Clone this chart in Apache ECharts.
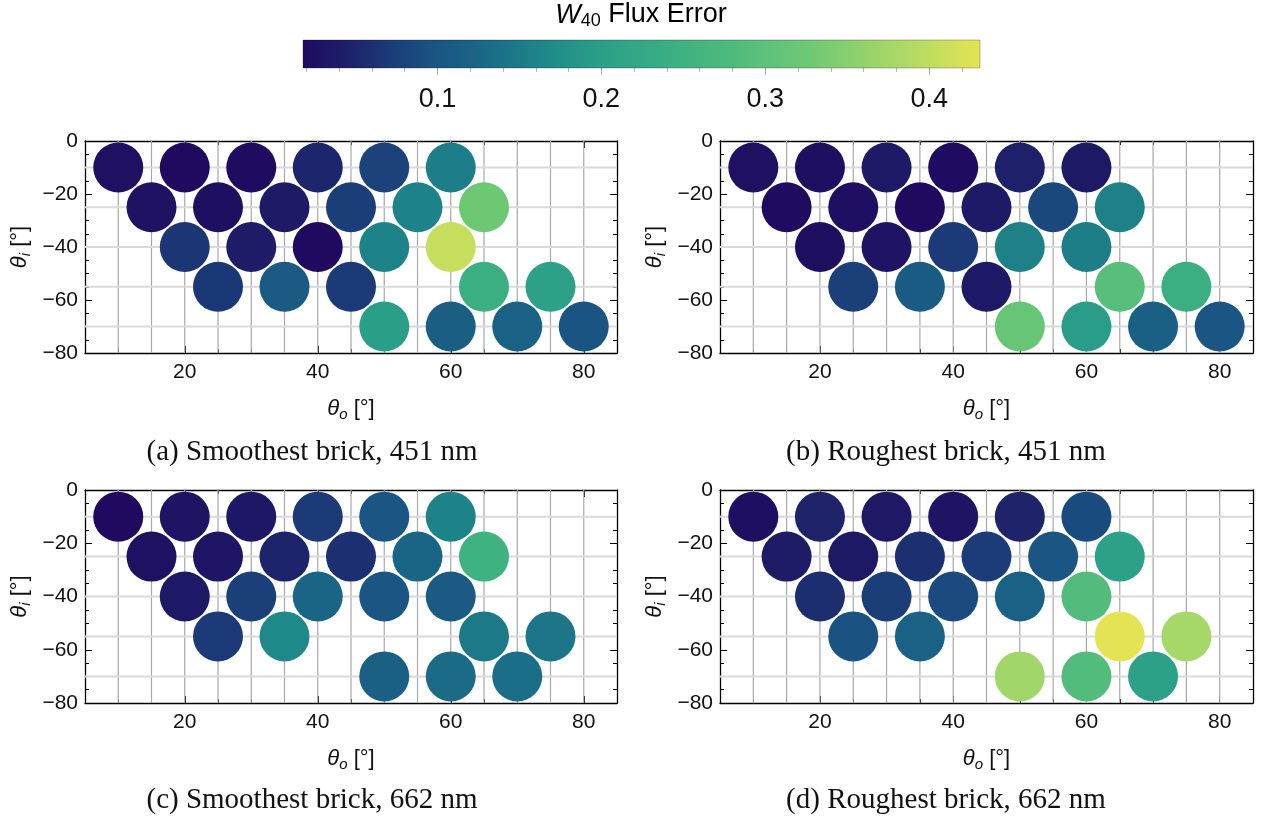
<!DOCTYPE html>
<html><head><meta charset="utf-8">
<script src="https://cdn.jsdelivr.net/npm/echarts@6/dist/echarts.min.js"></script>
<style>html,body{margin:0;padding:0;background:#fff}#c{width:1265px;height:822px}</style>
</head><body><div id="c"></div>
<script>
// ---- data ----
const thetaO_ab = [10,20,30,40,50,60, 15,25,35,45,55,65, 20,30,40,50,60, 25,35,45,65,75, 50,60,70,80];
const thetaI_ab = [-10,-10,-10,-10,-10,-10, -25,-25,-25,-25,-25,-25, -40,-40,-40,-40,-40, -55,-55,-55,-55,-55, -70,-70,-70,-70];
const thetaO_cd = [10,20,30,40,50,60, 15,25,35,45,55,65, 20,30,40,50,60, 25,35,65,75, 50,60,70];
const thetaI_cd = [-10,-10,-10,-10,-10,-10, -25,-25,-25,-25,-25,-25, -40,-40,-40,-40,-40, -55,-55,-55,-55, -70,-70,-70];
const err_a = [0.025,0.018,0.020,0.050,0.078,0.153, 0.028,0.024,0.038,0.073,0.160,0.324, 0.065,0.040,0.018,0.160,0.405, 0.068,0.107,0.070,0.243,0.205, 0.198,0.113,0.120,0.098];
const err_b = [0.025,0.024,0.038,0.020,0.045,0.036, 0.020,0.023,0.018,0.038,0.085,0.158, 0.024,0.030,0.070,0.158,0.155, 0.075,0.109,0.037,0.293,0.243, 0.315,0.196,0.117,0.100];
const err_c = [0.018,0.030,0.034,0.070,0.100,0.160, 0.026,0.032,0.049,0.060,0.123,0.250, 0.037,0.075,0.123,0.100,0.107, 0.070,0.167,0.148,0.143, 0.117,0.130,0.135];
const err_d = [0.024,0.048,0.035,0.030,0.048,0.088, 0.040,0.036,0.060,0.072,0.100,0.205, 0.058,0.073,0.087,0.120,0.286, 0.097,0.120,0.431,0.377, 0.372,0.285,0.205];
const captions = ['(a) Smoothest brick, 451 nm','(b) Roughest brick, 451 nm','(c) Smoothest brick, 662 nm','(d) Roughest brick, 662 nm'];
const xMajorTicks = [20,40,60,80];
const xMinorTicks = [5,10,15,25,30,35,45,50,55,65,70,75,85];
const gridLinesX = [10,15,20,25,30,35,40,45,50,55,60,65,70,75,80];
const gridLinesY = [-10,-25,-40,-55,-70];
const cbMajorTicks = [0.1,0.2,0.3,0.4];
const cbMinorTicks = [0.02,0.04,0.06,0.08,0.12,0.14,0.16,0.18,0.22,0.24,0.26,0.28,0.32,0.34,0.36,0.38,0.42];
const cbMin = 0.018, cbMax = 0.431;
const cmap = ['#1f0a5f','#1e1f68','#1b3a77','#1a5282','#1a6385','#1c7888','#208d89','#2a9f88','#34a886','#3fb281','#4cb97d','#5ec27a','#70c973','#8bd06e','#a8d868','#c6de5e','#e3e354'];

const xMin = 5, xMax = 85, yMin = -80, yMax = 0;
const panels = [
  {left:85, top:141, width:532, height:212, o:thetaO_ab, i:thetaI_ab, e:err_a},
  {left:720, top:141, width:533, height:212, o:thetaO_ab, i:thetaI_ab, e:err_b},
  {left:85, top:490, width:532, height:213, o:thetaO_cd, i:thetaI_cd, e:err_c},
  {left:720, top:490, width:533, height:213, o:thetaO_cd, i:thetaI_cd, e:err_d}
];
const captionPos = [[312,452],[946,452],[312,800],[946,800]];

const SANS = 'Liberation Sans, Arial, sans-serif';
const SERIF = 'Liberation Serif, Times New Roman, serif';
const subRich = (fs) => ({
  it: {fontStyle:'italic', fontSize:fs, fontFamily:SANS, color:'#111', lineHeight:fs+4, verticalAlign:'middle'},
  sub: {fontStyle:'italic', fontSize:Math.round(fs*0.68), fontFamily:SANS, color:'#111', lineHeight:fs+4, verticalAlign:'bottom'},
  subn: {fontSize:Math.round(fs*0.68), fontFamily:SANS, color:'#111', lineHeight:fs+4, verticalAlign:'bottom'},
  n: {fontSize:fs, fontFamily:SANS, color:'#111', lineHeight:fs+4, verticalAlign:'middle'}
});
const minus = v => String(v).replace('-', '\u2212');

const grids = [], xAxes = [], yAxes = [], series = [], graphics = [];
const scatterIdx = [];
const lineStyleFrame = {color:'#000', width:1.3};

function vLine(params, api){
  const x = api.value(0);
  const p0 = api.coord([x, yMin]), p1 = api.coord([x, yMax]);
  return {type:'line', shape:{x1:p0[0], y1:p0[1], x2:p1[0], y2:p1[1]}, style:{stroke:'#a8a8a8', lineWidth:1.2}};
}
function hLine(params, api){
  const y = api.value(1);
  const p0 = api.coord([xMin, y]), p1 = api.coord([xMax, y]);
  return {type:'line', shape:{x1:p0[0], y1:p0[1], x2:p1[0], y2:p1[1]}, style:{stroke:'#dadada', lineWidth:2}};
}

panels.forEach((p, k) => {
  grids.push({left:p.left, top:p.top, width:p.width, height:p.height, containLabel:false});
  const xb = xAxes.length;
  xAxes.push({gridIndex:k, type:'value', position:'bottom', min:xMin, max:xMax,
    axisLine:{show:true, onZero:false, lineStyle:lineStyleFrame},
    axisTick:{show:true, inside:true, length:7, customValues:xMajorTicks, lineStyle:{color:'#000'}},
    axisLabel:{show:true, customValues:xMajorTicks, fontSize:21, fontFamily:SANS, color:'#111', margin:9},
    splitLine:{show:false},
    name:'{it|θ}{sub|o}{n| [°]}', nameLocation:'middle', nameGap:43,
    nameTextStyle:{rich:subRich(22)}
  });
  xAxes.push({gridIndex:k, type:'value', position:'bottom', min:xMin, max:xMax,
    axisLine:{show:false, onZero:false},
    axisTick:{show:true, inside:true, length:4, customValues:xMinorTicks, lineStyle:{color:'#000'}},
    axisLabel:{show:false}, splitLine:{show:false}});
  xAxes.push({gridIndex:k, type:'value', position:'top', min:xMin, max:xMax,
    axisLine:{show:true, onZero:false, lineStyle:lineStyleFrame},
    axisTick:{show:true, inside:true, length:7, customValues:xMajorTicks, lineStyle:{color:'#000'}},
    axisLabel:{show:false}, splitLine:{show:false}});
  xAxes.push({gridIndex:k, type:'value', position:'top', min:xMin, max:xMax,
    axisLine:{show:false, onZero:false},
    axisTick:{show:true, inside:true, length:4, customValues:xMinorTicks, lineStyle:{color:'#000'}},
    axisLabel:{show:false}, splitLine:{show:false}});
  const yb = yAxes.length;
  yAxes.push({gridIndex:k, type:'value', position:'left', min:yMin, max:yMax, interval:20,
    axisLine:{show:true, onZero:false, lineStyle:lineStyleFrame},
    axisTick:{show:true, inside:true, length:7, lineStyle:{color:'#000'}},
    minorTick:{show:true, splitNumber:4, length:4, lineStyle:{color:'#000'}},
    axisLabel:{show:true, fontSize:21, fontFamily:SANS, color:'#111', margin:7, formatter:minus},
    splitLine:{show:false},
    name:'{it|θ}{sub|i}{n| [°]}', nameLocation:'middle', nameGap:52, nameRotate:90,
    nameTextStyle:{rich:subRich(22)}
  });
  yAxes.push({gridIndex:k, type:'value', position:'right', min:yMin, max:yMax, interval:20,
    axisLine:{show:true, onZero:false, lineStyle:lineStyleFrame},
    axisTick:{show:true, inside:true, length:7, lineStyle:{color:'#000'}},
    minorTick:{show:true, splitNumber:4, length:4, lineStyle:{color:'#000'}},
    axisLabel:{show:false}, splitLine:{show:false}});

  series.push({type:'custom', xAxisIndex:xb, yAxisIndex:yb, z:1, silent:true, clip:false,
    data:gridLinesX.map(v => [v, -40]), encode:{x:0, y:1}, renderItem:vLine});
  series.push({type:'custom', xAxisIndex:xb, yAxisIndex:yb, z:1, silent:true, clip:false,
    data:gridLinesY.map(v => [45, v]), encode:{x:0, y:1}, renderItem:hLine});
  scatterIdx.push(series.length);
  series.push({type:'scatter', xAxisIndex:xb, yAxisIndex:yb, z:3, symbol:'circle', symbolSize:50,
    data:p.o.map((o, j) => [o, p.i[j], p.e[j]]),
    itemStyle:{opacity:1}, emphasis:{disabled:true}});

  graphics.push({type:'text', x:captionPos[k][0], y:captionPos[k][1],
    style:{text:captions[k], fontFamily:SERIF, fontSize:29, fill:'#111', align:'center', verticalAlign:'middle'}});
});

// colorbar
const cbGrid = grids.length;
grids.push({left:303, top:40, width:677, height:28});
const cbx = xAxes.length;
xAxes.push({gridIndex:cbGrid, type:'value', position:'bottom', min:cbMin, max:cbMax,
  axisLine:{show:false},
  axisTick:{show:true, inside:false, length:7, customValues:cbMajorTicks, lineStyle:{color:'#aaa'}},
  axisLabel:{show:true, customValues:cbMajorTicks, fontSize:27, fontFamily:SANS, color:'#111', margin:18},
  splitLine:{show:false}});
xAxes.push({gridIndex:cbGrid, type:'value', position:'bottom', min:cbMin, max:cbMax,
  axisLine:{show:false},
  axisTick:{show:true, inside:false, length:4, customValues:cbMinorTicks, lineStyle:{color:'#bbb'}},
  axisLabel:{show:false}, splitLine:{show:false}});
const cby = yAxes.length;
yAxes.push({gridIndex:cbGrid, type:'value', min:0, max:1, show:false});
series.push({type:'custom', xAxisIndex:cbx, yAxisIndex:cby, silent:true, clip:false,
  data:[[cbMin, 0, cbMax, 1]], encode:{x:[0,2], y:[1,3]},
  renderItem:function(params, api){
    const p0 = api.coord([api.value(0), api.value(1)]);
    const p1 = api.coord([api.value(2), api.value(3)]);
    const stops = cmap.map((c, j) => ({offset:j/(cmap.length-1), color:c}));
    return {type:'rect', shape:{x:p0[0], y:p1[1], width:p1[0]-p0[0], height:p0[1]-p1[1]},
      style:{fill:new echarts.graphic.LinearGradient(0,0,1,0,stops), stroke:'rgba(0,0,0,0.25)', lineWidth:1}};
  }});

graphics.push({type:'text', x:641, y:15, style:{text:'{it|W}{subn|40}{n| Flux Error}', rich:subRich(27),
  align:'center', verticalAlign:'middle'}});

const chart = echarts.init(document.getElementById('c'), null, {renderer:'canvas'});
chart.setOption({
  animation:false,
  backgroundColor:'#fff',
  grid:grids, xAxis:xAxes, yAxis:yAxes, series:series,
  visualMap:[{type:'continuous', show:false, min:cbMin, max:cbMax, dimension:2, seriesIndex:scatterIdx,
    inRange:{color:cmap}}],
  graphic:graphics
});
</script></body></html>
